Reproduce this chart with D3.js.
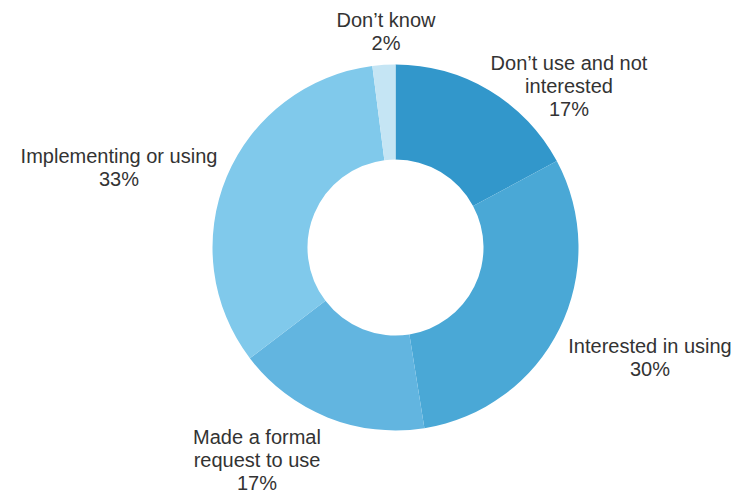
<!DOCTYPE html>
<html>
<head>
<meta charset="utf-8">
<script src="https://cdn.jsdelivr.net/npm/d3@7"></script>
<style>
  body { margin: 0; background: #fff; }
  text { font-family: "Liberation Sans", Arial, sans-serif; fill: #333; }
</style>
</head>
<body>
<div id="chart"></div>
<script>
var categories = ["Don\u2019t use and not interested", "Interested in using", "Made a formal request to use", "Implementing or using", "Don\u2019t know"];
var values = [17, 30, 17, 33, 2];
var colors = ["#3297cb", "#4aa8d6", "#62b5e0", "#80c9eb", "#c5e5f4"];
// label lines (text broken as in the picture)
var labelLines = [
    ["Don\u2019t use and not", "interested"],
    ["Interested in using"],
    ["Made a formal", "request to use"],
    ["Implementing or using"],
    ["Don\u2019t know"]
];

var width = 736,
    height = 493,
    cx = 395.5,
    cy = 247.5,
    outer = 183,
    inner = 88

var svg = d3.select("#chart").append("svg")
    .attr("width", width)
    .attr("height", height)

var g = svg.append("g")
    .attr("transform", "translate(" + cx + "," + cy + ")")

var pie = d3.pie().sort(null).value(function(d) { return d; })
var arc = d3.arc().innerRadius(inner).outerRadius(outer)
var arcs = pie(values)

g.selectAll("path")
    .data(arcs)
  .enter().append("path")
    .attr("d", arc)
    .attr("fill", function(d, i) { return colors[i]; })

// where each label block starts (first baseline, centred)
var labelPos = [
    {x: 569, y: 70},
    {x: 650, y: 353},
    {x: 257, y: 444},
    {x: 119, y: 163},
    {x: 386, y: 27}
];
var lineH = 23

arcs.forEach(function(a, i) {
    var lines = labelLines[i].concat([values[i] + "%"]);
    var t = svg.append("text")
        .attr("text-anchor", "middle")
        .attr("font-size", 20)
    lines.forEach(function(l, j) {
        t.append("tspan")
            .attr("x", labelPos[i].x)
            .attr("y", labelPos[i].y + j * lineH)
            .text(l)
    });
});
</script>
</body>
</html>
